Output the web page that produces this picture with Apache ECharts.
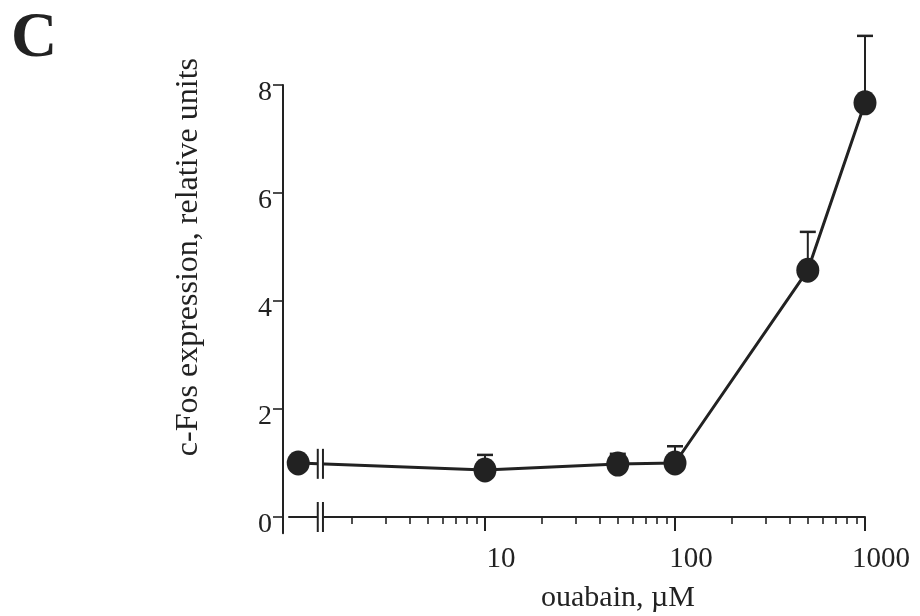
<!DOCTYPE html>
<html>
<head>
<meta charset="utf-8">
<script src="https://cdn.jsdelivr.net/npm/echarts@6/dist/echarts.min.js"></script>
<style>
  html, body { margin: 0; padding: 0; background: #fff; }
  #chart { width: 920px; height: 616px; }
</style>
</head>
<body>
<div id="chart"></div>
<script>
// Ouabain concentration (µM). The first entry is the untreated control,
// plotted at the far left, ahead of the axis break.
const concentrations = [1.04, 10, 50, 100, 500, 1000];
// c-Fos expression (relative units), mean and top of the error bar
const cFosMean  = [1.0, 0.87, 0.98, 1.0, 4.57, 7.67];
const cFosUpper = [null, 1.15, 1.17, 1.31, 5.28, 8.91];

// Axis ticks
const xMajorTicks = [10, 100, 1000];
const xMinorTicks = [2, 3, 4, 5, 6, 7, 8, 9, 20, 30, 40, 50, 60, 70, 80, 90,
                     200, 300, 400, 500, 600, 700, 800, 900];
const yTicks = [0, 2, 4, 6, 8];
// Where the x axis is broken between control and treated samples
const axisBreakAt = 1.36;

const INK = '#222';
const FONT = '"Liberation Serif", "Times New Roman", serif';

const Y_MIN = -0.3, Y_MAX = 8;
const GRID_TOP = 85, GRID_HEIGHT = 448.2;
// distance from the bottom of the plot area up to y = 0
const zeroLift = GRID_HEIGHT * (0 - Y_MIN) / (Y_MAX - Y_MIN);

const linePoints = concentrations.map((c, i) => [c, cFosMean[i]]);
const errorPoints = concentrations
  .map((c, i) => [c, cFosMean[i], cFosUpper[i]])
  .filter(d => d[2] != null);

const chart = echarts.init(document.getElementById('chart'), null, { renderer: 'canvas' });

const logAxisBase = {
  type: 'log',
  logBase: 10,
  min: 0.93,
  max: 1000,
  position: 'bottom',
  splitLine: { show: false },
  minorTick: { show: false }
};

chart.setOption({
  animation: false,
  backgroundColor: '#fff',
  textStyle: { fontFamily: FONT, color: INK },
  title: {
    text: 'C',
    left: 6,
    top: 2,
    textStyle: { fontFamily: FONT, fontWeight: 'bold', fontSize: 64, color: INK }
  },
  grid: { left: 289, right: 55, top: GRID_TOP, height: GRID_HEIGHT,
          containLabel: false, outerBoundsMode: 'none' },
  xAxis: [
    Object.assign({}, logAxisBase, {
      name: 'ouabain, µM',
      nameLocation: 'middle',
      nameGap: 50,
      nameTextStyle: { fontFamily: FONT, fontSize: 30, color: INK, padding: [0, 0, 0, 82] },
      axisLine: { show: true, onZero: true, lineStyle: { color: INK, width: 2 } },
      axisTick: { show: true, length: 14, inside: false, customValues: xMajorTicks,
                  lineStyle: { color: INK, width: 2 } },
      axisLabel: { show: true, customValues: xMajorTicks, margin: 12,
                   fontFamily: FONT, fontSize: 29, color: INK, padding: [0, 0, 0, 32],
                   formatter: v => String(v) }
    }),
    Object.assign({}, logAxisBase, {
      offset: -zeroLift,
      axisLine: { show: false, onZero: false },
      axisTick: { show: true, length: 7, customValues: xMinorTicks,
                  lineStyle: { color: INK, width: 1.6 } },
      axisLabel: { show: false }
    })
  ],
  yAxis: {
    type: 'value',
    min: Y_MIN,
    max: Y_MAX,
    offset: 6,
    splitLine: { show: false },
    name: 'c-Fos expression, relative units',
    nameLocation: 'middle',
    nameGap: 78,
    nameTextStyle: { fontFamily: FONT, fontSize: 32, color: INK, padding: [0, 0, 0, 104] },
    axisLine: { show: true, onZero: false, lineStyle: { color: INK, width: 2 } },
    axisTick: { show: true, length: 10, customValues: yTicks, lineStyle: { color: INK, width: 1.6 } },
    axisLabel: { customValues: yTicks, margin: 11, fontFamily: FONT, fontSize: 28, color: INK,
                 verticalAlign: 'top', lineHeight: 16 }
  },
  series: [
    {
      name: 'c-Fos',
      type: 'line',
      xAxisIndex: 0,
      data: linePoints,
      symbol: 'circle',
      symbolSize: [23, 25],
      itemStyle: { color: INK },
      lineStyle: { color: INK, width: 3 },
      z: 3
    },
    {
      name: 'error',
      type: 'custom',
      xAxisIndex: 0,
      data: errorPoints,
      encode: { x: 0, y: [1, 2] },
      z: 2,
      renderItem: (params, api) => {
        const base = api.coord([api.value(0), api.value(1)]);
        const top = api.coord([api.value(0), api.value(2)]);
        const cap = 8;
        return {
          type: 'group',
          children: [
            { type: 'line', shape: { x1: base[0], y1: base[1], x2: top[0], y2: top[1] },
              style: { stroke: INK, lineWidth: 2 } },
            { type: 'line', shape: { x1: top[0] - cap, y1: top[1], x2: top[0] + cap, y2: top[1] },
              style: { stroke: INK, lineWidth: 2.5 } }
          ]
        };
      }
    }
  ]
});

// Break marks: a pair of short bars across the x axis and across the data line
function breakMark(xc, yc) {
  const h = 15, gap = 2.6;
  return [
    { type: 'rect', z: 100, shape: { x: xc - gap, y: yc - h - 1, width: gap * 2, height: 2 * h + 2 },
      style: { fill: '#fff' } },
    { type: 'line', z: 101, shape: { x1: xc - gap, y1: yc - h, x2: xc - gap, y2: yc + h },
      style: { stroke: INK, lineWidth: 2 } },
    { type: 'line', z: 101, shape: { x1: xc + gap, y1: yc - h, x2: xc + gap, y2: yc + h },
      style: { stroke: INK, lineWidth: 2 } }
  ];
}

const xb = chart.convertToPixel({ xAxisIndex: 0 }, axisBreakAt);
const yAxisZero = chart.convertToPixel({ yAxisIndex: 0 }, 0);
const pCtrl = chart.convertToPixel({ seriesIndex: 0 }, linePoints[0]);
const pNext = chart.convertToPixel({ seriesIndex: 0 }, linePoints[1]);
const t = (xb - pCtrl[0]) / (pNext[0] - pCtrl[0]);
const yLine = pCtrl[1] + t * (pNext[1] - pCtrl[1]);

chart.setOption({
  graphic: breakMark(xb, yAxisZero).concat(breakMark(xb, yLine))
});
</script>
</body>
</html>
